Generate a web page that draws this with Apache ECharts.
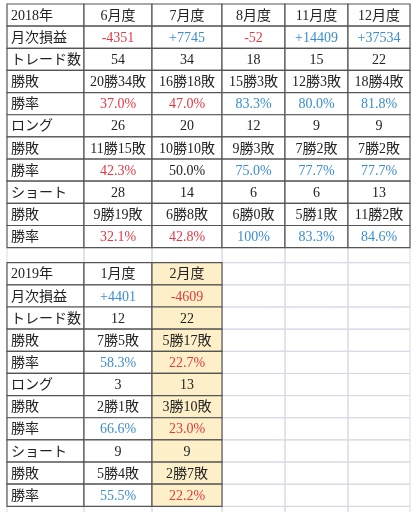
<!DOCTYPE html>
<html>
<head>
<meta charset="utf-8">
<script src="https://cdn.jsdelivr.net/npm/echarts@6/dist/echarts.min.js"></script>
<style>html,body{margin:0;padding:0;background:#fff}#c{width:417px;height:512px}</style>
</head>
<body>
<div id="c"></div>
<script>
// row labels shared by both tables
const rowLabels = ['月次損益', 'トレード数', '勝敗', '勝率', 'ロング', '勝敗', '勝率', 'ショート', '勝敗', '勝率'];

const months2018 = ['6月度', '7月度', '8月度', '11月度', '12月度'];
const values2018 = [
  ['-4351', '+7745', '-52', '+14409', '+37534'],
  ['54', '34', '18', '15', '22'],
  ['20勝34敗', '16勝18敗', '15勝3敗', '12勝3敗', '18勝4敗'],
  ['37.0%', '47.0%', '83.3%', '80.0%', '81.8%'],
  ['26', '20', '12', '9', '9'],
  ['11勝15敗', '10勝10敗', '9勝3敗', '7勝2敗', '7勝2敗'],
  ['42.3%', '50.0%', '75.0%', '77.7%', '77.7%'],
  ['28', '14', '6', '6', '13'],
  ['9勝19敗', '6勝8敗', '6勝0敗', '5勝1敗', '11勝2敗'],
  ['32.1%', '42.8%', '100%', '83.3%', '84.6%']
];

const months2019 = ['1月度', '2月度'];
const values2019 = [
  ['+4401', '-4609'],
  ['12', '22'],
  ['7勝5敗', '5勝17敗'],
  ['58.3%', '22.7%'],
  ['3', '13'],
  ['2勝1敗', '3勝10敗'],
  ['66.6%', '23.0%'],
  ['9', '9'],
  ['5勝4敗', '2勝7敗'],
  ['55.5%', '22.2%']
];

// layout
const colEdges = [0, 77, 145, 215, 278, 341, 403];
const gapH = 0.68;
const t2Top = 11 + gapH;
const RED = '#e03a44', BLUE = '#3b8dcf', BLACK = '#222';

function colorOf(rowIdx, text) {
  if (rowIdx === 0) return text[0] === '-' ? RED : BLUE;
  if (rowIdx === 3 || rowIdx === 6 || rowIdx === 9) {
    const v = parseFloat(text);
    if (v < 50) return RED;
    if (v > 50) return BLUE;
  }
  return BLACK;
}

// cells: [col, rowTop, rowH, text, color, kind]  kind: 0 light empty, 1 table, 2 highlighted
const cells = [];
// light background grid
for (let c = 0; c < 6; c++) {
  cells.push([c, 11, gapH, '', BLACK, 0]);
  for (let r = 0; r < 11; r++) cells.push([c, t2Top + r, 1, '', BLACK, 0]);
  cells.push([c, t2Top + 11, 0.5, '', BLACK, 0]);
}
function addTable(top, year, months, values, hiCol) {
  cells.push([0, top, 1, year, BLACK, 1]);
  months.forEach((m, i) => cells.push([i + 1, top, 1, m, BLACK, i === hiCol ? 2 : 1]));
  rowLabels.forEach((lab, r) => {
    cells.push([0, top + r + 1, 1, lab, BLACK, 1]);
    values[r].forEach((v, i) => cells.push([i + 1, top + r + 1, 1, v, colorOf(r, v), i === hiCol ? 2 : 1]));
  });
}
addTable(0, '2018年', months2018, values2018, -1);
addTable(t2Top, '2019年', months2019, values2019, 1);

const chart = echarts.init(document.getElementById('c'));
chart.setOption({
  animation: false,
  grid: { left: 7, right: 7, top: 4, bottom: 5 },
  xAxis: { type: 'value', min: 0, max: 403, show: false },
  yAxis: { type: 'value', min: 0, max: t2Top + 11 + 0.03, inverse: true, show: false },
  series: [{
    type: 'custom',
    data: cells,
    renderItem: function (params, api) {
      const c = api.value(0), top = api.value(1), h = api.value(2), kind = api.value(5);
      const p0 = api.coord([colEdges[c], top]);
      const p1 = api.coord([colEdges[c + 1], top + h]);
      const text = cells[params.dataIndex][3];
      const color = cells[params.dataIndex][4];
      const rect = {
        type: 'rect',
        shape: { x: p0[0], y: p0[1], width: p1[0] - p0[0], height: p1[1] - p0[1] },
        style: {
          fill: kind === 2 ? '#fdefc8' : (kind === 1 ? '#fff' : 'transparent'),
          stroke: kind === 0 ? '#d9d9e6' : '#555',
          lineWidth: kind === 0 ? 1 : 1.2
        },
        z2: kind
      };
      const children = [rect];
      if (text) {
        children.push({
          type: 'text',
          style: {
            x: c === 0 ? p0[0] + 4 : (p0[0] + p1[0]) / 2,
            y: (p0[1] + p1[1]) / 2 + 1,
            text: text,
            fill: color,
            font: '14px "Liberation Serif", "Noto Sans CJK JP"',
            align: c === 0 ? 'left' : 'center',
            verticalAlign: 'middle'
          },
          z2: 10
        });
      }
      return { type: 'group', children: children };
    }
  }]
});
</script>
</body>
</html>
